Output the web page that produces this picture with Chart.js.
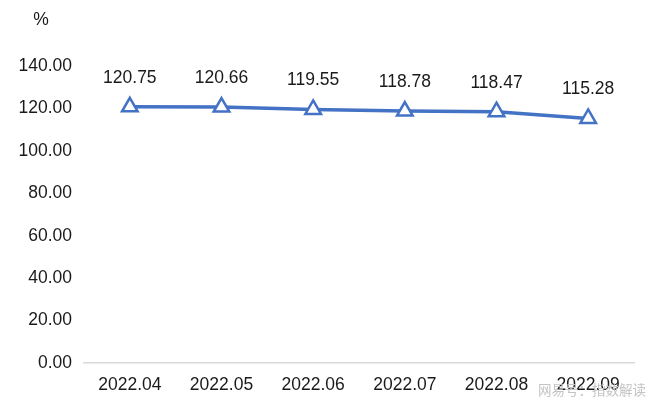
<!DOCTYPE html>
<html>
<head>
<meta charset="utf-8">
<script src="https://cdn.jsdelivr.net/npm/chart.js@4"></script>
<style>
  html, body { margin: 0; padding: 0; background: #fff; }
  #wrap { width: 660px; height: 408px; }
</style>
</head>
<body>
<div id="wrap"><canvas id="chart"></canvas></div>
<script>
// Data
const months = ['2022.04', '2022.05', '2022.06', '2022.07', '2022.08', '2022.09'];
const ratio = [120.75, 120.66, 119.55, 118.78, 118.47, 115.28];
const yTicks = [0, 20, 40, 60, 80, 100, 120, 140];
const unitLabel = '%';
const watermark = '网易号：指数解读';

const FONT = '"Liberation Sans", Arial, sans-serif';

// value labels above points, unit text, watermark
const extras = {
    id: 'extras',
    afterDatasetsDraw(chart) {
        const ctx = chart.ctx;
        const meta = chart.getDatasetMeta(0);
        ctx.save();
        ctx.font = '17.5px ' + FONT;
        ctx.fillStyle = '#1a1a1a';
        ctx.textAlign = 'center';
        ctx.textBaseline = 'middle';
        meta.data.forEach((pt, i) => {
            ctx.fillText(ratio[i].toFixed(2), pt.x, pt.y - 29);
        });
        ctx.fillText(unitLabel, 41, 20);
        ctx.font = '13.5px "Noto Sans CJK SC", sans-serif';
        ctx.fillStyle = '#c4c4c4';
        ctx.textAlign = 'left';
        ctx.fillText(watermark, 538, 390);
        ctx.restore();
    }
};

const ctx = document.getElementById('chart').getContext('2d');
const chart = new Chart(ctx, {
    type: 'line',
    data: {
        labels: months,
        datasets: [{
            data: ratio,
            borderColor: '#4472c4',
            borderWidth: 3.5,
            pointStyle: 'triangle',
            pointRadius: 9,
            pointBorderWidth: 2.5,
            pointBorderColor: '#4472c4',
            pointBackgroundColor: '#ffffff',
            tension: 0
        }]
    },
    options: {
        responsive: true,
        maintainAspectRatio: false,
        animation: false,
        layout: { padding: { top: 66, right: 26, bottom: 0, left: 0 } },
        plugins: {
            legend: { display: false },
            tooltip: { enabled: false }
        },
        scales: {
            x: {
                offset: true,
                grid: { display: false, drawTicks: false },
                border: { display: true, color: '#d9d9d9', width: 1.5 },
                ticks: { color: '#1a1a1a', font: { family: FONT, size: 17.5 }, padding: 12 }
            },
            y: {
                min: 0,
                max: 140,
                afterFit(scale) { scale.width = 84; },
                afterBuildTicks(scale) { scale.ticks = yTicks.map(v => ({ value: v })); },
                grid: { display: false, drawTicks: false },
                border: { display: false },
                ticks: {
                    color: '#1a1a1a',
                    font: { family: FONT, size: 17.5 },
                    padding: 12,
                    callback: v => v.toFixed(2)
                }
            }
        }
    },
    plugins: [extras]
});
</script>
</body>
</html>
